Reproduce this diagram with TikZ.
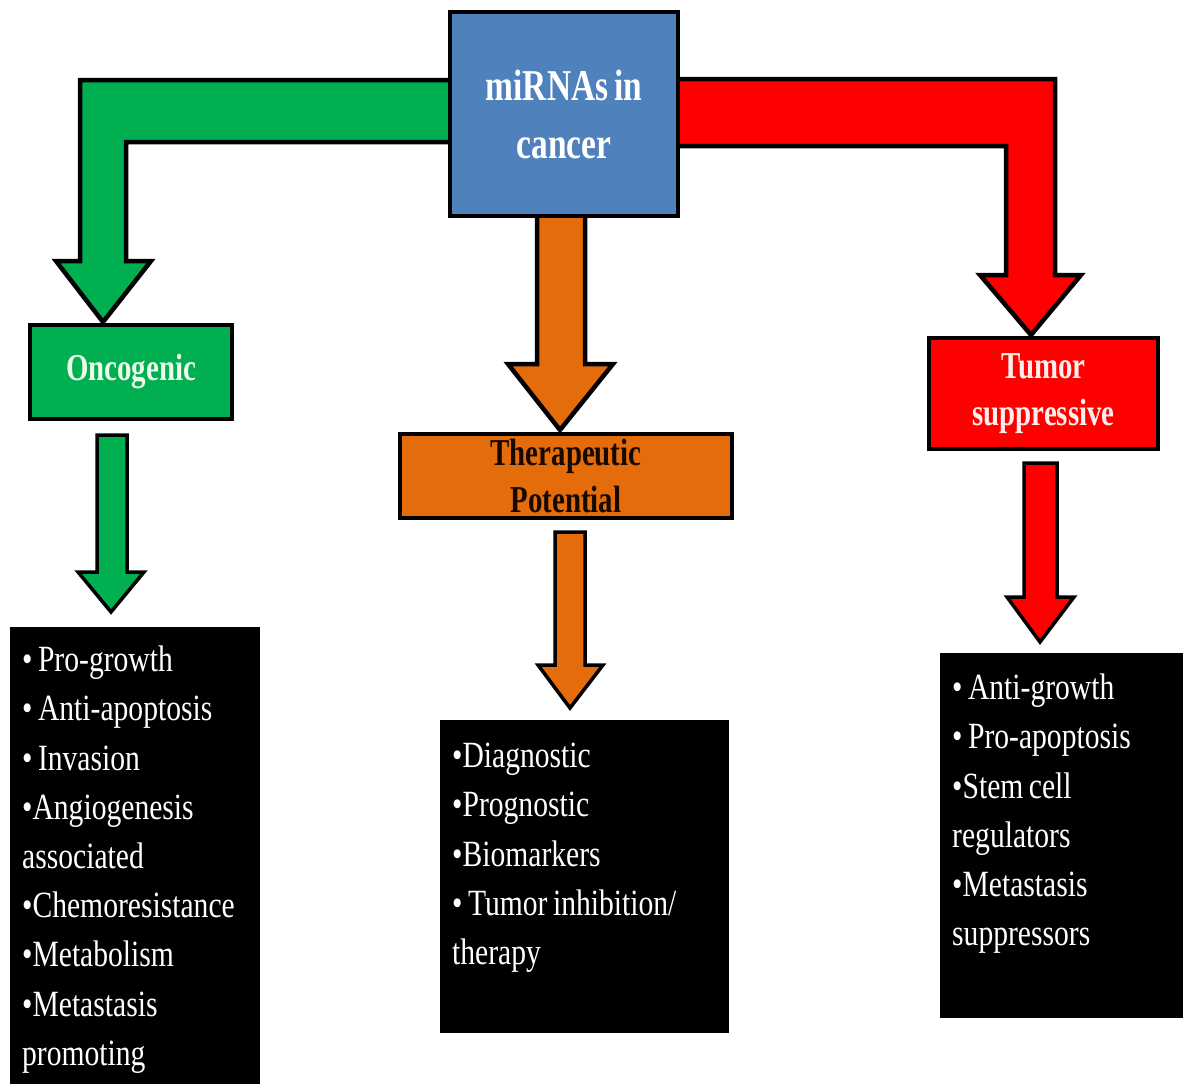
\documentclass[tikz,border=0pt]{standalone}
\usepackage{fontspec}
\newfontfamily\bodyfont[FakeStretch=0.8]{Liberation Serif}
\newfontfamily\labfont[FakeStretch=0.76]{Liberation Serif}
\usetikzlibrary{calc}
\definecolor{cblue}{RGB}{79,129,189}
\definecolor{cgreen}{RGB}{0,176,80}
\definecolor{cred}{RGB}{255,0,0}
\definecolor{corange}{RGB}{228,108,10}
\definecolor{cdark}{RGB}{22,10,0}
\newcommand\narrowsp{\spaceskip=5.5pt plus 1pt\relax}
\begin{document}
\begin{tikzpicture}[x=1pt,y=-1pt,
  box/.style={draw=black,line width=4pt,inner sep=0pt,align=center},
  blackbox/.style={fill=black,inner sep=0pt,anchor=north west},
  listtext/.style={anchor=north west,inner sep=0pt,text width=280pt,align=left,text=white,
    font=\bodyfont\fontsize{37}{49.2}\selectfont},
  bigarrow/.style={draw=black,line width=4.5pt,line join=miter},
  smallarrow/.style={draw=black,line width=3.5pt,line join=miter},
  titlefont/.style={font=\labfont\bfseries\fontsize{44}{58}\selectfont},
  labfontstyle/.style={font=\labfont\bfseries\fontsize{38}{47}\selectfont}]
\useasboundingbox[fill=white] (0,0) rectangle (1183,1084);

% ---- boxes (placed first so arrows can reference them; redrawn on top later)
\path (564,114) node[box,fill=cblue,minimum width=228pt,minimum height=204pt] (mir) {};
\path (131,372) node[box,fill=cgreen,minimum width=202pt,minimum height=94pt] (onc) {};
\path (1043.5,393.5) node[box,fill=cred,minimum width=229pt,minimum height=111pt] (tum) {};
\path (566,476) node[box,fill=corange,minimum width=332pt,minimum height=84pt] (ther) {};
\path (10,627) node[blackbox,minimum width=250pt,minimum height=457pt] (bl) {};
\path (440,720) node[blackbox,minimum width=289pt,minimum height=313pt] (bm) {};
\path (940,653) node[blackbox,minimum width=243pt,minimum height=365pt] (br) {};

% ---- green bent arrow
\coordinate (gtip) at ($(onc.north west)+(75,-1)$);
\coordinate (gtop) at ($(mir.west)+(4,-34)$);
\coordinate (gbot) at ($(mir.west)+(4,28)$);
\coordinate (gSL) at ($(gtip)+(-23,-61)$);
\coordinate (gSR) at ($(gtip)+(23,-61)$);
\coordinate (gHL) at ($(gtip)+(-47,-61)$);
\coordinate (gHR) at ($(gtip)+(48,-61)$);
\draw[bigarrow,fill=cgreen] (gtop) -- (gtop -| gSL) -- (gSL) -- (gHL) -- (gtip) -- (gHR) -- (gSR) -- (gSR |- gbot) -- (gbot) -- cycle;

% ---- red bent arrow
\coordinate (rtip) at ($(tum.north west)+(104,-1)$);
\coordinate (rtop) at ($(mir.east)+(-4,-35)$);
\coordinate (rbot) at ($(mir.east)+(-4,32)$);
\coordinate (rSL) at ($(rtip)+(-25,-60)$);
\coordinate (rSR) at ($(rtip)+(24,-60)$);
\coordinate (rHL) at ($(rtip)+(-51,-60)$);
\coordinate (rHR) at ($(rtip)+(50,-60)$);
\draw[bigarrow,fill=cred] (rtop) -- (rtop -| rSR) -- (rSR) -- (rHR) -- (rtip) -- (rHL) -- (rSL) -- (rSL |- rbot) -- (rbot) -- cycle;

% ---- orange arrow
\coordinate (otip) at ($(ther.north)+(-6,-2)$);
\coordinate (otop) at ($(mir.south)+(0,-4)$);
\coordinate (oSL) at ($(otip)+(-23,-66)$);
\coordinate (oSR) at ($(otip)+(25,-66)$);
\coordinate (oHL) at ($(otip)+(-52,-66)$);
\coordinate (oHR) at ($(otip)+(53,-66)$);
\draw[bigarrow,fill=corange] (oSL |- otop) -- (oSL) -- (oHL) -- (otip) -- (oHR) -- (oSR) -- (oSR |- otop) -- cycle;

% ---- small green arrow
\coordinate (sgtip) at ($(bl.north west)+(101,-15)$);
\coordinate (sgtop) at ($(onc.south)+(0,14)$);
\coordinate (sgSL) at ($(sgtip)+(-14,-40)$);
\coordinate (sgSR) at ($(sgtip)+(16,-40)$);
\coordinate (sgHL) at ($(sgtip)+(-33,-40)$);
\coordinate (sgHR) at ($(sgtip)+(33,-40)$);
\draw[smallarrow,fill=cgreen] (sgSL |- sgtop) -- (sgSL) -- (sgHL) -- (sgtip) -- (sgHR) -- (sgSR) -- (sgSR |- sgtop) -- cycle;

% ---- small orange arrow
\coordinate (sotip) at ($(bm.north west)+(130,-12)$);
\coordinate (sotop) at ($(ther.south)+(0,12)$);
\coordinate (soSL) at ($(sotip)+(-15,-43)$);
\coordinate (soSR) at ($(sotip)+(15,-43)$);
\coordinate (soHL) at ($(sotip)+(-32,-43)$);
\coordinate (soHR) at ($(sotip)+(33,-43)$);
\draw[smallarrow,fill=corange] (soSL |- sotop) -- (soSL) -- (soHL) -- (sotip) -- (soHR) -- (soSR) -- (soSR |- sotop) -- cycle;

% ---- small red arrow
\coordinate (srtip) at ($(br.north west)+(100,-11)$);
\coordinate (srtop) at ($(tum.south)+(0,12)$);
\coordinate (srSL) at ($(srtip)+(-16,-45)$);
\coordinate (srSR) at ($(srtip)+(17,-45)$);
\coordinate (srHL) at ($(srtip)+(-33,-45)$);
\coordinate (srHR) at ($(srtip)+(34,-45)$);
\draw[smallarrow,fill=cred] (srSL |- srtop) -- (srSL) -- (srHL) -- (srtip) -- (srHR) -- (srSR) -- (srSR |- srtop) -- cycle;

% ---- boxes on top with their texts
\node[box,fill=cblue,minimum width=228pt,minimum height=204pt,titlefont,text=white] at (mir) {miRNAs\hspace{6pt}in\\cancer};
\node[box,fill=cgreen,minimum width=202pt,minimum height=94pt,labfontstyle,text={rgb,255:red,235;green,250;blue,235}] at (onc) {Oncogenic};
\node[box,fill=cred,minimum width=229pt,minimum height=111pt,labfontstyle,text={rgb,255:red,255;green,238;blue,238}] at (tum) {Tumor\\suppressive};
\node[box,fill=corange,minimum width=332pt,minimum height=84pt,labfontstyle,text=cdark] at (ther) {Therapeutic\\Potential};

% ---- list texts
\node[listtext] (blt) at ($(bl.north west)+(12,10)$) {\narrowsp\strut• Pro-growth\\\strut• Anti-apoptosis\\\strut• Invasion\\\strut•Angiogenesis\\\strut associated\\\strut•Chemoresistance\\\strut•Metabolism\\\strut•Metastasis\\\strut promoting};
\node[listtext] (bmt) at ($(bm.north west)+(12,13)$) {\narrowsp\strut•Diagnostic\\\strut•Prognostic\\\strut•Biomarkers\\\strut• Tumor inhibition/\\\strut therapy};
\node[listtext] (brt) at ($(br.north west)+(12,12)$) {\narrowsp\strut• Anti-growth\\\strut• Pro-apoptosis\\\strut•Stem cell\\\strut regulators\\\strut•Metastasis\\\strut suppressors};
\end{tikzpicture}
\end{document}
